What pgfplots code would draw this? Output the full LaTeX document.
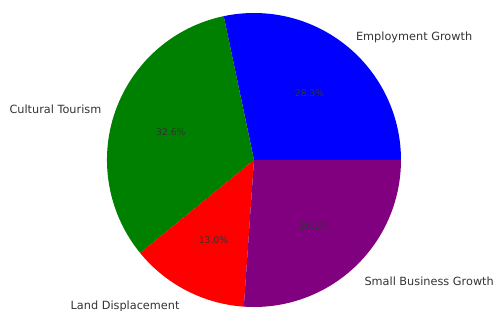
\documentclass[border=0pt]{standalone}
\usepackage{pgfplots}
\usepackage{pgfplotstable}
\pgfplotsset{compat=1.18}
\usepackage{fontspec}
\setmainfont{DejaVu Sans}
\definecolor{mplgreen}{RGB}{0,128,0}
\definecolor{mplpurple}{RGB}{128,0,128}
\definecolor{labgray}{RGB}{51,51,51}
\pgfplotstableread[col sep=comma]{
label,value,color
Employment Growth,28.3,blue
Cultural Tourism,32.6,mplgreen
Land Displacement,13.0,red
Small Business Growth,26.1,mplpurple
}\piedata
\def\cx{254}
\def\cy{151}
\def\R{147}
\begin{document}
\begin{tikzpicture}
\useasboundingbox (0,0) rectangle (496pt,311pt);
\begin{axis}[x=1pt,y=1pt,xmin=0,xmax=496,ymin=0,ymax=311,hide axis,clip=false,
  anchor=south west, at={(0,0)}]
\xdef\startang{0}
\pgfplotsforeachungrouped \i in {0,...,3}{%
  \pgfplotstablegetelem{\i}{value}\of\piedata \let\val\pgfplotsretval
  \pgfplotstablegetelem{\i}{color}\of\piedata \let\col\pgfplotsretval
  \pgfplotstablegetelem{\i}{label}\of\piedata \let\lab\pgfplotsretval
  \pgfmathsetmacro{\endang}{\startang+3.6*\val}%
  \pgfmathsetmacro{\midang}{(\startang+\endang)/2}%
  \pgfmathsetmacro{\lx}{\cx+1.1*\R*cos(\midang)}%
  \pgfmathsetmacro{\ly}{\cy+1.1*\R*sin(\midang)-3}%
  \pgfmathsetmacro{\px}{\cx+0.6*\R*cos(\midang)}%
  \pgfmathsetmacro{\py}{\cy+0.6*\R*sin(\midang)-2}%
  \pgfmathsetmacro{\cm}{cos(\midang)}%
  \ifdim\cm pt>0pt \def\anc{west}\else\def\anc{east}\fi
  \edef\temp{%
    \noexpand\fill[\col] (axis cs:\cx,\cy) -- ++(\startang:\R pt) arc[start angle=\startang, end angle=\endang, radius=\R pt] -- cycle;
    \noexpand\node[anchor=\anc, inner sep=0pt, text=labgray, font=\noexpand\fontsize{11.3}{13}\noexpand\selectfont] at (axis cs:\lx,\ly) {\lab};
    \noexpand\node[inner sep=0pt, text=black!80, font=\noexpand\fontsize{9.2}{11}\noexpand\selectfont] at (axis cs:\px,\py) {\val\noexpand\%};
  }%
  \temp
  \xdef\startang{\endang}%
}
\end{axis}
\end{tikzpicture}
\end{document}
